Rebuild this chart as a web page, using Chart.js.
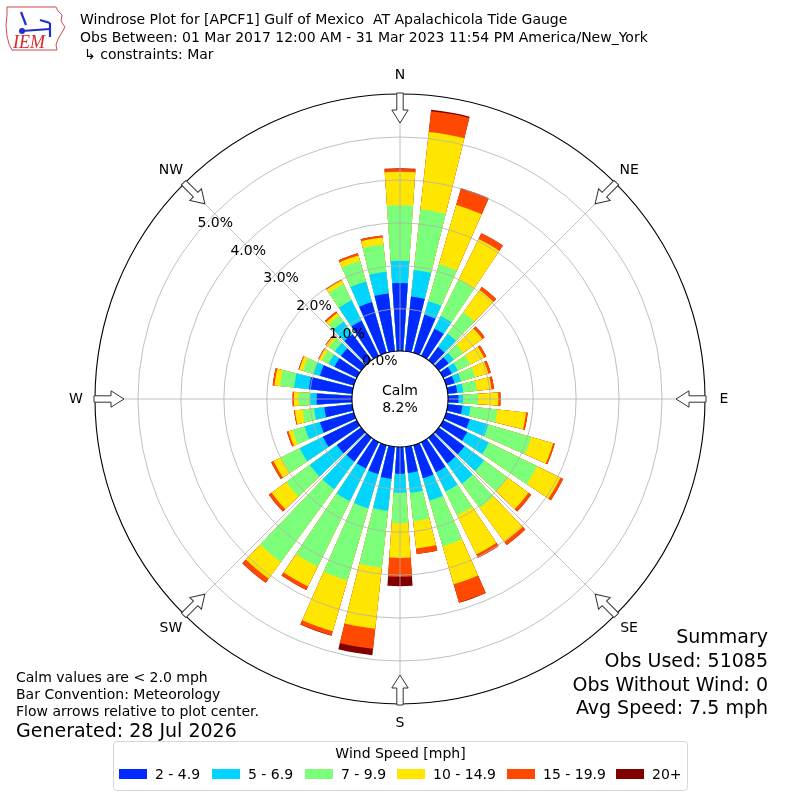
<!DOCTYPE html>
<html>
<head>
<meta charset="utf-8">
<script src="https://cdn.jsdelivr.net/npm/chart.js@4.4.0/dist/chart.umd.min.js"></script>
<style>
html,body{margin:0;padding:0;background:#fff;}
#wrap{position:relative;width:800px;height:800px;overflow:hidden;font-family:"DejaVu Sans",sans-serif;color:#000;}
#c{position:absolute;left:0;top:0;}
.t{position:absolute;white-space:pre;font-size:14px;line-height:16px;}
.big{font-size:19px;line-height:22px;}
.r{text-align:right;right:32px;}
#legend{position:absolute;left:113px;top:741px;width:575px;height:50px;border:1px solid #d6d6d6;border-radius:4px;box-sizing:border-box;}
.sw{position:absolute;width:28px;height:10px;top:27px;}
.lt{position:absolute;top:24px;font-size:14px;line-height:16px;white-space:pre;}
</style>
</head>
<body>
<div id="wrap">
<canvas id="c" width="800" height="800"></canvas>

<svg style="position:absolute;left:4px;top:3px" width="64" height="48" viewBox="0 0 64 48">
  <path d="M3,4 L52,4 L54,8 L58,12 L57,18 L61,24 L57,31 L54,36 L52,42 L53,47 L8,47 L5,41 L3,33 L2,22 L3,12 Z" fill="none" stroke="#d24b4b" stroke-width="1"/>
  <g stroke="#1f2fc8" stroke-width="2.2" fill="none">
    <line x1="18" y1="28" x2="46" y2="26"/>
    <line x1="17" y1="9" x2="22" y2="22"/>
    <line x1="46" y1="20" x2="46" y2="34"/>
    <line x1="36" y1="17" x2="46" y2="20"/>
  </g>
  <circle cx="18" cy="28" r="3" fill="#1f2fc8"/>
  <text x="9" y="45" font-family="Liberation Serif" font-style="italic" font-size="18" fill="#d42a2a">IEM</text>
</svg>

<div class="t" style="left:80px;top:11px">Windrose Plot for [APCF1] Gulf of Mexico  AT Apalachicola Tide Gauge</div>
<div class="t" style="left:80px;top:29px">Obs Between: 01 Mar 2017 12:00 AM - 31 Mar 2023 11:54 PM America/New_York</div>
<div class="t" style="left:84px;top:46px">↳ constraints: Mar</div>

<div class="t" style="left:16px;top:669px">Calm values are &lt; 2.0 mph</div>
<div class="t" style="left:16px;top:686px">Bar Convention: Meteorology</div>
<div class="t" style="left:16px;top:703px">Flow arrows relative to plot center.</div>
<div class="t big" style="left:16px;top:719px">Generated: 28 Jul 2026</div>

<div class="t big r" style="top:625px">Summary</div>
<div class="t big r" style="top:649px">Obs Used: 51085</div>
<div class="t big r" style="top:673px">Obs Without Wind: 0</div>
<div class="t big r" style="top:696px">Avg Speed: 7.5 mph</div>

<div id="legend"></div>
</div>

<script>
// ---------------- data ----------------
const directions = [0,10,20,30,40,50,60,70,80,90,100,110,120,130,140,150,160,170,180,190,200,210,220,230,240,250,260,270,280,290,300,310,320,330,340,350];
const speedBins = ['2 - 4.9','5 - 6.9','7 - 9.9','10 - 14.9','15 - 19.9','20+'];
const binColors = ['#002aff','#00d4ff','#7bff7b','#ffe600','#ff4800','#800000'];
// percent of observations per direction, per speed bin
const speed2to5   = [1.60,1.30,0.94,0.72,0.40,0.30,0.24,0.22,0.24,0.26,0.36,0.59,0.64,0.76,0.76,0.80,0.82,0.63,0.64,0.77,0.72,0.70,0.70,0.72,0.90,0.84,0.67,0.84,1.03,0.84,0.60,0.60,0.77,0.93,1.25,1.37];
const speed5to7   = [0.52,0.62,0.33,0.33,0.38,0.15,0.16,0.16,0.14,0.11,0.19,0.45,0.56,0.56,0.58,0.50,0.54,0.47,0.44,0.75,0.83,0.85,0.80,0.78,0.60,0.37,0.24,0.15,0.35,0.16,0.15,0.18,0.36,0.53,0.50,0.51];
const speed7to10  = [1.29,1.42,0.90,0.95,0.62,0.27,0.32,0.34,0.32,0.35,0.63,1.04,1.25,0.68,0.70,0.62,1.11,0.66,0.71,1.33,1.75,1.70,2.10,0.68,0.48,0.29,0.27,0.27,0.33,0.25,0.17,0.17,0.17,0.42,0.50,0.64];
const speed10to15 = [0.78,1.81,1.43,1.05,0.64,0.55,0.36,0.32,0.34,0.47,0.67,0.53,0.61,0.60,0.98,1.01,0.92,0.64,0.81,1.43,1.23,0.51,0.48,0.42,0.20,0.10,0.18,0.11,0.13,0.09,0.08,0.08,0.08,0.09,0.13,0.16];
const speed15to20 = [0.07,0.49,0.39,0.15,0.09,0.07,0.06,0.06,0.06,0.05,0.04,0.04,0.07,0.08,0.09,0.09,0.44,0.13,0.44,0.47,0.10,0.09,0.12,0.08,0.06,0.04,0.02,0.03,0.04,0.02,0.02,0.02,0.04,0.02,0.05,0.05];
const speed20up   = [0.01,0.03,0.02,0,0,0,0,0,0,0,0,0,0,0,0,0,0.01,0,0.22,0.15,0.01,0,0,0,0,0,0,0,0,0,0,0,0,0,0,0];
const calmPercent = 8.2;
const compassAngles = [0,45,90,135,180,225,270,315];
const compassLabels = ['N','NE','E','SE','S','SW','W','NW'];
const radialTicks = [0,1,2,3,4,5,6];
const radialTickLabels = ['0.0%','1.0%','2.0%','3.0%','4.0%','5.0%'];

// ---------------- build ----------------
const binSeries = [speed2to5, speed5to7, speed7to10, speed10to15, speed15to20, speed20up];
const BAR_DEG = 7.7, GAP_DEG = 10 - BAR_DEG;

const cumulative = [];
binSeries.forEach((arr, k) => {
  cumulative.push(arr.map((v, i) => (k ? cumulative[k-1][i] : 0) + v));
});
const labels = [];
directions.forEach(d => { labels.push(d + '°'); labels.push(''); });

const datasets = cumulative.map((cum, k) => {
  const data = [];
  cum.forEach(v => { data.push(+v.toFixed(3)); data.push(0); });
  return {
    label: speedBins[k],
    data,
    backgroundColor: ctx => (ctx.dataIndex % 2 ? 'rgba(0,0,0,0)' : binColors[k]),
    borderWidth: 0,
    angle: ctx => (ctx.dataIndex % 2 ? GAP_DEG : BAR_DEG)
  };
});

const deco = {
  id: 'deco',
  afterDraw(chart) {
    const s = chart.scales.r, ctx = chart.ctx;
    const cx = s.xCenter, cy = s.yCenter;
    const r0 = s.getDistanceFromCenterForValue(0);
    const rMax = s.getDistanceFromCenterForValue(s.max);
    ctx.save();
    ctx.strokeStyle = '#b0b0b0'; ctx.lineWidth = 0.8;
    compassAngles.forEach(a => {
      const t = a * Math.PI / 180;
      ctx.beginPath();
      ctx.moveTo(cx + r0 * Math.sin(t), cy - r0 * Math.cos(t));
      ctx.lineTo(cx + rMax * Math.sin(t), cy - rMax * Math.cos(t));
      ctx.stroke();
    });
    ctx.beginPath(); ctx.arc(cx, cy, r0 + 0.8, 0, 2 * Math.PI);
    ctx.fillStyle = '#fff'; ctx.fill();
    ctx.strokeStyle = '#000'; ctx.lineWidth = 1.1; ctx.stroke();
    ctx.fillStyle = '#000';
    ctx.font = '14px "DejaVu Sans"'; ctx.textAlign = 'center'; ctx.textBaseline = 'middle';
    ctx.fillText('Calm', cx, cy - 8);
    ctx.fillText(calmPercent.toFixed(1) + '%', cx, cy + 9);
    const la = 310 * Math.PI / 180;
    radialTickLabels.forEach((lab, i) => {
      const r = s.getDistanceFromCenterForValue(radialTicks[i]);
      ctx.fillText(lab, cx + r * Math.sin(la) + 16, cy - r * Math.cos(la) - 7);
    });
    compassAngles.forEach((a, i) => {
      const t = a * Math.PI / 180;
      ctx.save();
      ctx.translate(cx, cy); ctx.rotate(t);
      const rt = rMax + 1, rh = rMax - 16, rp = rMax - 29;
      ctx.beginPath();
      ctx.moveTo(-3.2, -rt); ctx.lineTo(3.2, -rt); ctx.lineTo(3.2, -rh); ctx.lineTo(8.2, -rh);
      ctx.lineTo(0, -rp); ctx.lineTo(-8.2, -rh); ctx.lineTo(-3.2, -rh); ctx.closePath();
      ctx.fillStyle = '#fff'; ctx.fill();
      ctx.strokeStyle = '#333'; ctx.lineWidth = 1; ctx.stroke();
      ctx.restore();
      const rl = rMax + 19;
      ctx.fillStyle = '#000';
      ctx.fillText(compassLabels[i], cx + rl * Math.sin(t), cy - rl * Math.cos(t));
    });
    ctx.restore();
  }
};

new Chart(document.getElementById('c'), {
  type: 'polarArea',
  data: { labels, datasets },
  options: {
    responsive: false,
    animation: false,
    events: [],
    layout: { padding: { left: 95, right: 95, top: 94, bottom: 96 } },
    plugins: { legend: { display: false }, tooltip: { enabled: false } },
    scales: {
      r: {
        min: -1.1,
        max: 6,
        startAngle: -BAR_DEG / 2,
        afterBuildTicks: sc => { sc.ticks = radialTicks.map(v => ({ value: v })); },
        ticks: { display: false },
        pointLabels: { display: false },
        angleLines: { display: false },
        grid: {
          z: 1,
          circular: true,
          color: c => (c.tick && c.tick.value === 6 ? '#000' : '#b0b0b0'),
          lineWidth: c => (c.tick && c.tick.value === 6 ? 1.1 : 0.8)
        }
      }
    }
  },
  plugins: [deco]
});

const lg = document.getElementById('legend');
const title = document.createElement('div');
title.className = 'lt';
title.style.cssText = 'top:3px;left:0;width:100%;text-align:center;';
title.textContent = 'Wind Speed [mph]';
lg.appendChild(title);
const swX = [5, 98, 191, 283, 393, 502];
speedBins.forEach((b, k) => {
  const sw = document.createElement('div');
  sw.className = 'sw'; sw.style.left = swX[k] + 'px'; sw.style.background = binColors[k];
  lg.appendChild(sw);
  const t = document.createElement('div');
  t.className = 'lt'; t.style.left = (swX[k] + 36) + 'px'; t.textContent = b;
  lg.appendChild(t);
});
</script>
</body>
</html>
